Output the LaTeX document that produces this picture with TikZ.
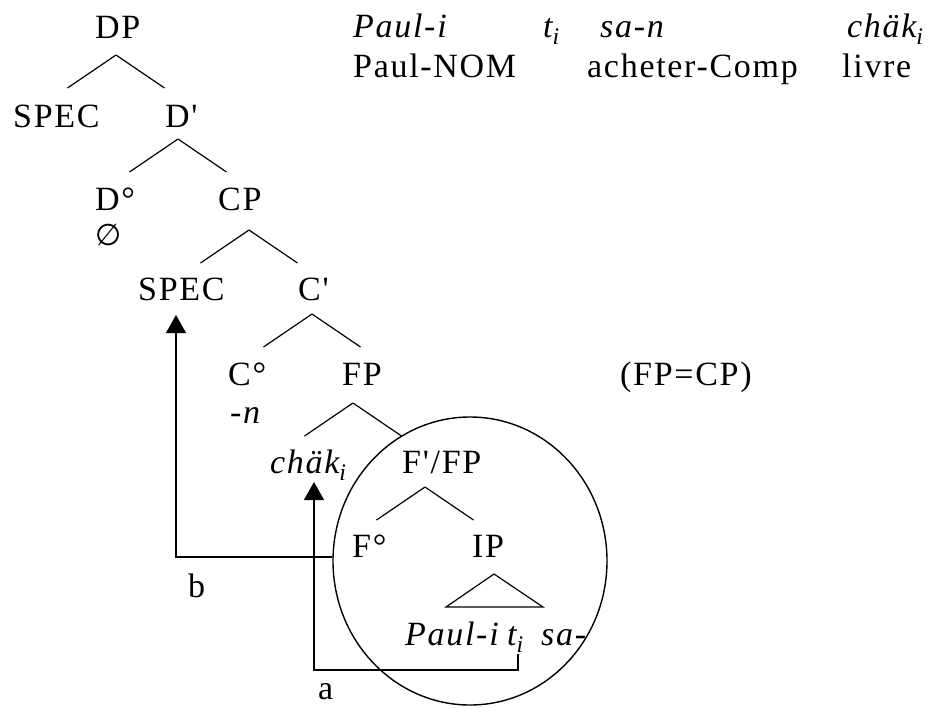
\documentclass[tikz,border=0pt]{standalone}
\usepackage{fontspec}
\setmainfont[LetterSpace=5,Ligatures=TeXOff]{Liberation Serif}
\newfontfamily\symfont{DejaVu Sans}
\usetikzlibrary{arrows.meta,shapes.geometric,calc}
\newcommand{\tsz}{\fontsize{34}{40}\selectfont}
\newcommand{\isub}[1]{\textsubscript{\itshape #1}}
\begin{document}
\begin{tikzpicture}[x=1pt,y=-1pt,
  lbl/.style={inner sep=0pt, anchor=base west, font=\tsz},
  ilbl/.style={lbl, font=\tsz\itshape},
  branch/.style={line width=1.2pt},
  move/.style={line width=1.2pt, -{Triangle[width=20pt,length=18pt]}},
  ring/.style={draw, ellipse, line width=1.4pt, inner sep=0pt,
    minimum width=274pt, minimum height=288pt}]
\useasboundingbox (0,0) rectangle (928,707);

% gloss
\node[ilbl] (g1) at (353,37) {Paul-i};
\node[ilbl] (g2) at (543,37) {t\isub{i}};
\node[ilbl] (g3) at (600,37) {sa-n};
\node[ilbl] (g4) at (847,37) {chäk\isub{i}};
\node[lbl] (h1) at (353,77) {Paul-NOM};
\node[lbl] (h3) at (587,77) {acheter-Comp};
\node[lbl] (h4) at (842,77) {livre};

% tree labels
\node[lbl] (DP) at (95,38) {DP};
\node[lbl] (SPECa) at (13,127) {SPEC};
\node[lbl] (Dbar) at (165,127) {D'};
\node[lbl] (Dzero) at (95,210) {D°};
\node[inner sep=0pt, font=\symfont\fontsize{30}{32}\selectfont] (empty) at (109,235) {∅};
\node[lbl] (CP) at (218,210) {CP};
\node[lbl] (SPECb) at (138,300) {SPEC};
\node[lbl] (Cbar) at (298,300) {C'};
\node[lbl] (Czero) at (228,385) {C°};
\node[ilbl] (nsuf) at (230,423) {-n};
\node[lbl] (FP) at (342,385) {FP};
\node[lbl] (eq) at (620,385) {(FP=CP)};
\node[ilbl] (chak) at (270,473) {chäk\isub{i}};
\node[lbl] (FbarFP) at (402,473) {F'/FP};
\node[lbl] (Fzero) at (352,557) {F°};
\node[lbl] (IP) at (472,557) {IP};
\node[ilbl] (paul) at (405,645) {Paul-i};
\node[ilbl] (ti) at (507,645) {t\isub{i}};
\node[ilbl] (sa) at (541,645) {sa-};
\node[lbl] (lb) at (188,597) {b};
\node[lbl] (la) at (318,699) {a};

% branches
\foreach \n/\x/\y in {DP/116/55, Dbar/178/139, CP/249/230, Cbar/312/314, FP/353/403, FbarFP/425/487}{
  \coordinate (br\n) at (\x,\y);
  \draw[branch] (br\n) -- +(-48.5,33) (br\n) -- +(48.5,33);
}
% triangle under IP
\coordinate (triTop) at (494,574);
\draw[branch] (triTop) -- (446,607) -- (543,607) -- cycle;

% circle
\node[ring] (circ) at (470,561) {};

% movement a
\coordinate (aStart) at ($(ti.base west)+(11,9)$);
\coordinate (aTip) at ($(chak.base west)+(44,9)$);
\draw[move] (aStart) -- ++(0,16) -| (aTip);

% movement b
\coordinate (bStart) at ($(circ.west)+(0,-4)$);
\coordinate (bTip) at ($(SPECb.base west)+(38,15)$);
\draw[move] (bStart) -| (bTip);
\end{tikzpicture}
\end{document}
